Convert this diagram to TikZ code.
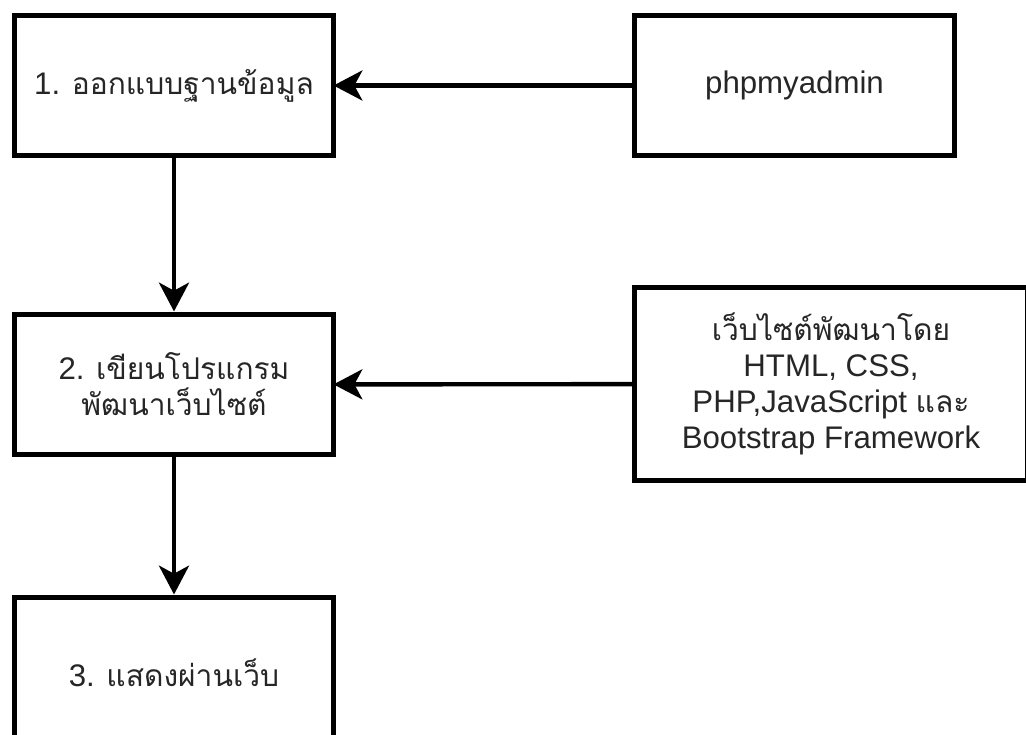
\documentclass[tikz,border=0pt]{standalone}
\usepackage{fontspec}
\setmainfont{Liberation Sans}
\newfontfamily\thaifont[Script=Thai,Scale=0.96]{Loma}
\usetikzlibrary{
	arrows.meta,
	positioning
}
\tikzset{
  % box
	cstbox/.style     ={draw=black,fill=white,text=black!85,line width=0.125cm,
	                    align=center,inner sep=0pt,outer sep=0pt,
	                    font=\fontsize{22.2}{25.6}\selectfont},
  % arrow
	cstra/.style      ={-{Stealth[length=0.72cm,width=0.75cm,inset=0.2cm]},line width=0.11cm}
}
\begin{document}
\begin{tikzpicture}[x=0.025cm,y=-0.025cm]
	\useasboundingbox (0,0) rectangle (1026,735);
	% left column
	\node[cstbox,minimum width=7.975cm,minimum height=3.5cm] (db) at (174,85.5)
		{1. {\thaifont ออกแบบฐานข้อมูล}};
	\node[cstbox,minimum width=7.975cm,minimum height=3.5cm] (prog) at (174,384.5)
		{2. {\thaifont เขียนโปรแกรม}\\{\thaifont พัฒนาเว็บไซต์}};
	\node[cstbox,minimum width=7.975cm,minimum height=3.75cm] (show) at (174,672.5)
		{3. {\thaifont แสดงผ่านเว็บ}};
	% right column
	\node[cstbox,minimum width=8cm,minimum height=3.5cm] (pma) at (794.5,85.5)
		{phpmyadmin};
	\node[cstbox,minimum width=9.825cm,minimum height=4.825cm] (tools) at (831,384)
		{{\thaifont เว็บไซต์พัฒนาโดย}\\HTML, CSS,\\PHP,JavaScript {\thaifont และ}\\Bootstrap Framework};
	% arrows
	\draw[cstra] (pma) -- (db);
	\draw[cstra] (tools) -- (prog);
	\draw[cstra,shorten >=0.075cm] (db) -- (prog);
	\draw[cstra,shorten >=0.075cm] (prog) -- (show);
\end{tikzpicture}
\end{document}
